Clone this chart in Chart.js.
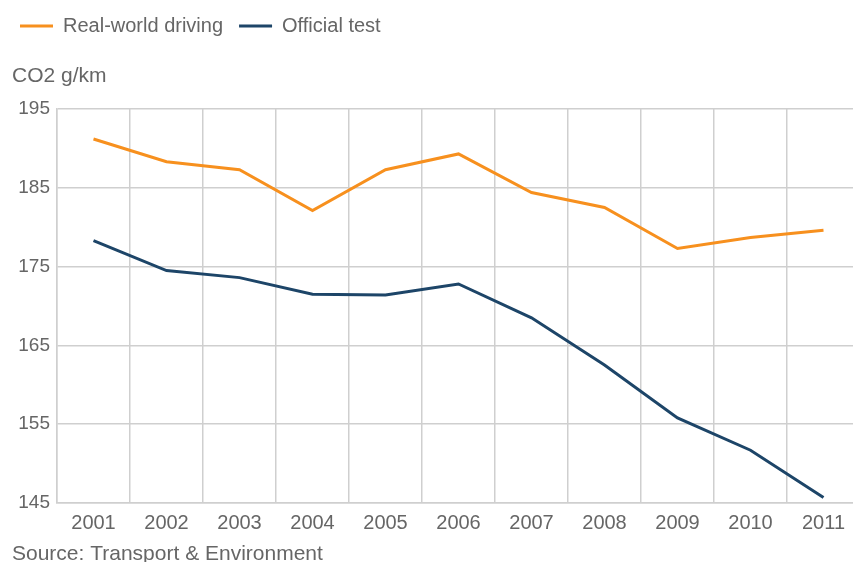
<!DOCTYPE html>
<html>
<head>
<meta charset="utf-8">
<script src="https://cdn.jsdelivr.net/npm/chart.js@4/dist/chart.umd.min.js"></script>
<style>
  html, body { margin: 0; padding: 0; background: #fff; overflow: hidden; width: 853px; height: 562px; }
  #wrap { position: relative; width: 870px; height: 562px; }
</style>
</head>
<body>
<div id="wrap"><canvas id="c" width="870" height="562"></canvas></div>
<script>
const years = ['2001','2002','2003','2004','2005','2006','2007','2008','2009','2010','2011'];
const realWorld = [191.2, 188.3, 187.3, 182.1, 187.3, 189.3, 184.4, 182.5, 177.3, 178.7, 179.6];
const officialTest = [178.3, 174.5, 173.6, 171.5, 171.4, 172.8, 168.5, 162.5, 155.8, 151.7, 145.7];
const yTicks = [145, 155, 165, 175, 185, 195];
const seriesNames = ['Real-world driving', 'Official test'];
const unitLabel = 'CO2 g/km';
const sourceLabel = 'Source: Transport & Environment';

const FONT = 'Liberation Sans, Arial, Helvetica, sans-serif';
const TXT = '#666666';
const GRID = '#cfcfcf';

// A layout box under the legend that holds the unit label
const unitBox = {
  id: 'unitBox',
  beforeInit(chart) {
    const box = {
      position: 'top', weight: 500, fullSize: true, options: {},
      top: 0, left: 0, right: 0, bottom: 0, width: 0, height: 0,
      isHorizontal() { return true; },
      update(maxWidth) { this.width = maxWidth; this.height = 63; },
      draw() {
        const ctx = chart.ctx;
        ctx.save();
        ctx.fillStyle = TXT;
        ctx.font = '21px ' + FONT;
        ctx.textAlign = 'left';
        ctx.textBaseline = 'middle';
        ctx.fillText(unitLabel, 12, this.top + 30);
        ctx.restore();
      }
    };
    Chart.layouts.addBox(chart, box);
  }
};

const sourceText = {
  id: 'sourceText',
  afterDraw(chart) {
    const ctx = chart.ctx;
    ctx.save();
    ctx.fillStyle = TXT;
    ctx.font = '21px ' + FONT;
    ctx.textAlign = 'left';
    ctx.textBaseline = 'middle';
    ctx.fillText(sourceLabel, 12, 554);
    ctx.restore();
  }
};

new Chart(document.getElementById('c'), {
  type: 'line',
  data: {
    labels: years,
    datasets: [
      { label: seriesNames[0], data: realWorld, borderColor: '#f7901e', backgroundColor: '#f7901e', borderWidth: 3, pointRadius: 0, tension: 0 },
      { label: seriesNames[1], data: officialTest, borderColor: '#1d4568', backgroundColor: '#1d4568', borderWidth: 3, pointRadius: 0, tension: 0 }
    ]
  },
  options: {
    responsive: false,
    animation: false,
    layout: { padding: { left: 4, right: 10, top: 0, bottom: 19 } },
    plugins: {
      legend: {
        position: 'top',
        align: 'start',
        labels: {
          color: TXT,
          font: { family: FONT, size: 20 },
          boxWidth: 33,
          boxHeight: 3,
          padding: 16,
          generateLabels(chart) {
            return chart.data.datasets.map((d, i) => ({
              text: d.label, fillStyle: d.borderColor, strokeStyle: d.borderColor,
              lineWidth: 0, hidden: false, datasetIndex: i, fontColor: TXT
            }));
          }
        }
      },
      title: { display: false },
      tooltip: { enabled: false }
    },
    scales: {
      x: {
        type: 'category',
        offset: true,
        grid: { color: GRID, lineWidth: 1.5, offset: true, drawTicks: false },
        border: { color: GRID, width: 1.5 },
        ticks: { color: TXT, font: { family: FONT, size: 20 }, padding: 8, maxRotation: 0, autoSkip: false }
      },
      y: {
        min: 145,
        max: 195,
        afterBuildTicks(scale) { scale.ticks = yTicks.map(v => ({ value: v })); },
        afterFit(scale) { scale.width = 53; },
        grid: { color: GRID, lineWidth: 1.5, drawTicks: false },
        border: { color: GRID, width: 1.5 },
        ticks: { color: TXT, font: { family: FONT, size: 19 }, padding: 7 }
      }
    }
  },
  plugins: [unitBox, sourceText]
});
</script>
</body>
</html>
